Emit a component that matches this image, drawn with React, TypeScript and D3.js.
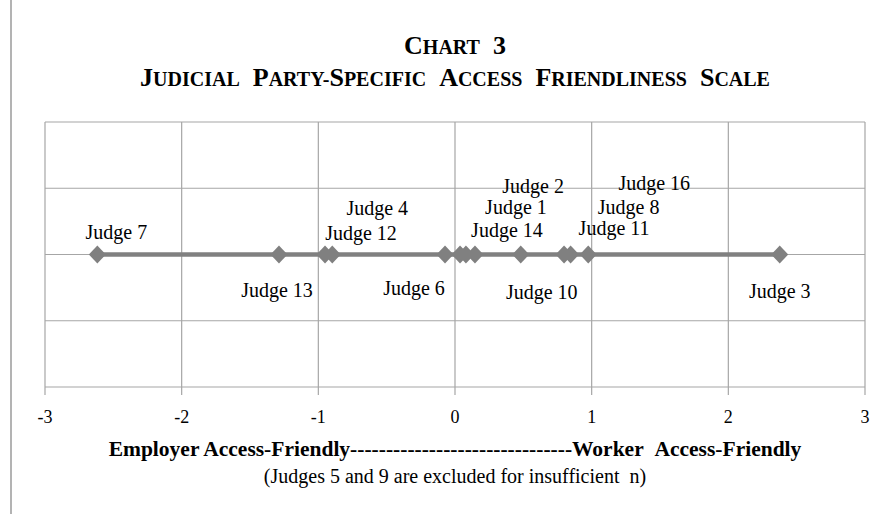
import React, { useRef, useEffect } from "react";
import * as d3 from "d3";

// judge scores on the access friendliness scale
const judges = [
  "Judge 7", "Judge 13", "Judge 12", "Judge 4", "Judge 6", "Judge 2", "Judge 1",
  "Judge 14", "Judge 10", "Judge 11", "Judge 8", "Judge 16", "Judge 3",
];
const scores = [
  -2.617, -1.288, -0.951, -0.898, -0.073, 0.037, 0.08, 0.146, 0.481, 0.798,
  0.846, 0.975, 2.376,
];
const xTicks = [-3, -2, -1, 0, 1, 2, 3];
const yTicks = [-2, -1, 0, 1, 2];

// label placement (dragged labels, pixel offsets from the marker)
const labelOffsets: Record<string, [number, number]> = {
  "Judge 7": [19, -23],
  "Judge 13": [-2, 35],
  "Judge 12": [36, -22],
  "Judge 4": [45, -47],
  "Judge 6": [-31, 33],
  "Judge 2": [73, -69],
  "Judge 1": [50, -48],
  "Judge 14": [32, -25],
  "Judge 10": [21, 37],
  "Judge 11": [50, -27],
  "Judge 8": [58, -48],
  "Judge 16": [66, -72],
  "Judge 3": [0, 36],
};

const FONT = "'Liberation Serif', 'Times New Roman', serif";

export default function App() {
  const svgRef = useRef<SVGSVGElement>(null);

  useEffect(() => {
    const width = 885;
    const height = 514;
    const svg = d3.select(svgRef.current);
    svg.selectAll("*").remove();
    svg.attr("width", width).attr("height", height);

    const left = 45;
    const right = 865;
    const top = 122;
    const bottom = 387;

    const x = d3.scaleLinear().domain([-3, 3]).range([left, right]);
    const y = d3.scaleLinear().domain([-2, 2]).range([bottom, top]);

    // outer frame edge
    svg.append("line")
      .attr("x1", 11).attr("x2", 11).attr("y1", 0).attr("y2", height)
      .attr("stroke", "#9a9a9a").attr("stroke-width", 1.5);

    const grid = svg.append("g").attr("stroke", "#a6a6a6").attr("stroke-width", 1.2);
    yTicks.forEach((t) => {
      grid.append("line")
        .attr("x1", left).attr("x2", right)
        .attr("y1", y(t)).attr("y2", y(t));
    });
    xTicks.forEach((t) => {
      grid.append("line")
        .attr("x1", x(t)).attr("x2", x(t))
        .attr("y1", top).attr("y2", bottom + 8);
    });

    // tick labels
    svg.append("g")
      .selectAll("text")
      .data(xTicks)
      .enter()
      .append("text")
      .attr("x", (d) => x(d))
      .attr("y", 423)
      .attr("text-anchor", "middle")
      .style("font-family", FONT)
      .style("font-size", "18px")
      .text((d) => String(d));

    const pts = judges.map((j, i) => ({ name: j, v: scores[i] }));
    const sorted = [...pts].sort((a, b) => a.v - b.v);

    const line = d3.line<{ name: string; v: number }>()
      .x((d) => x(d.v))
      .y(() => y(0));

    svg.append("path")
      .datum(sorted)
      .attr("fill", "none")
      .attr("stroke", "#808080")
      .attr("stroke-width", 4.5)
      .attr("d", line);

    const diamond = (cx: number, cy: number) =>
      `M${cx},${cy - 9}L${cx + 8.5},${cy}L${cx},${cy + 9}L${cx - 8.5},${cy}Z`;

    svg.append("g")
      .selectAll("path")
      .data(pts)
      .enter()
      .append("path")
      .attr("d", (d) => diamond(x(d.v), y(0)))
      .attr("fill", "#808080");

    svg.append("g")
      .selectAll("text")
      .data(pts)
      .enter()
      .append("text")
      .attr("x", (d) => x(d.v) + labelOffsets[d.name][0])
      .attr("y", (d) => y(0) + labelOffsets[d.name][1])
      .attr("dy", "0.35em")
      .attr("text-anchor", "middle")
      .style("font-family", FONT)
      .style("font-size", "20px")
      .text((d) => d.name);

    // title in small caps
    const cx = (left + right) / 2;
    const smallCaps = (el: any, str: string, big: number, small: number) => {
      str.split(" ").forEach((word, wi) => {
        if (wi > 0) el.append("tspan").style("font-size", big + "px").text("\u00a0\u00a0");
        word.split("-").forEach((part, pi) => {
          if (pi > 0) el.append("tspan").style("font-size", small + "px").text("-");
          el.append("tspan").style("font-size", big + "px").text(part[0]);
          if (part.length > 1) {
            el.append("tspan").style("font-size", small + "px").text(part.slice(1));
          }
        });
      });
    };

    const t1 = svg.append("text")
      .attr("x", cx).attr("y", 54)
      .attr("text-anchor", "middle")
      .style("font-family", FONT)
      .style("font-weight", "bold");
    smallCaps(t1, "CHART 3", 26, 20);

    const t2 = svg.append("text")
      .attr("x", cx).attr("y", 86)
      .attr("text-anchor", "middle")
      .style("font-family", FONT)
      .style("font-weight", "bold");
    smallCaps(t2, "JUDICIAL PARTY-SPECIFIC ACCESS FRIENDLINESS SCALE", 26, 20);

    svg.append("text")
      .attr("x", cx).attr("y", 456)
      .attr("text-anchor", "middle")
      .style("font-family", FONT)
      .style("font-weight", "bold")
      .style("font-size", "21.5px")
      .text("Employer Access-Friendly" + "-".repeat(31) + "Worker\u00a0\u00a0Access-Friendly");

    svg.append("text")
      .attr("x", cx).attr("y", 483)
      .attr("text-anchor", "middle")
      .style("font-family", FONT)
      .style("font-size", "20px")
      .text("(Judges 5 and 9 are excluded for insufficient\u00a0 n)");
  }, []);

  return <svg ref={svgRef} style={{ position: "absolute", left: 0, top: 0 }} />;
}
